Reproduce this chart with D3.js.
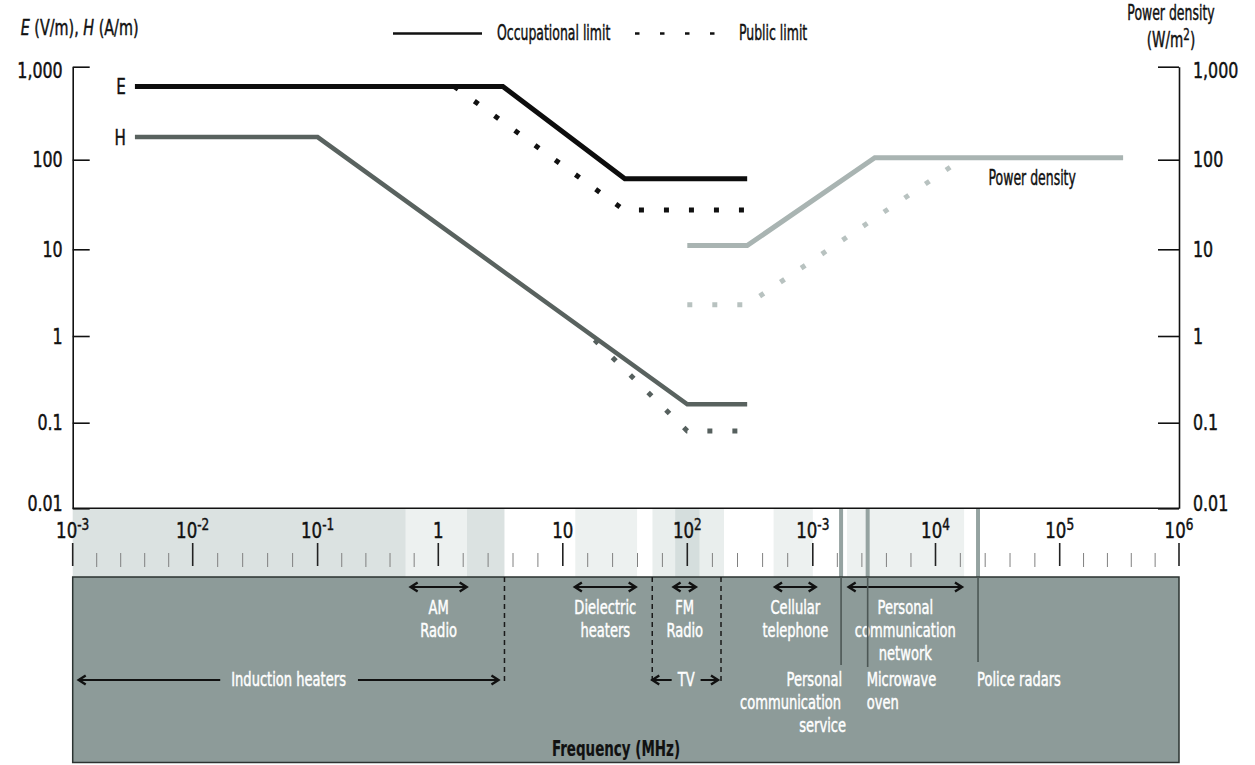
<!DOCTYPE html>
<html><head><meta charset="utf-8">
<script src="https://cdn.jsdelivr.net/npm/d3@7"></script>
<style>
html,body{margin:0;padding:0;background:#fff;}
svg{display:block;}
text{font-family:"Liberation Sans Narrow","DejaVu Sans Condensed","DejaVu Sans",sans-serif;}
</style></head><body>
<svg id="chart" width="1255" height="765"></svg>
<script>
// ---------------- data ----------------
const yTickValues = [0.01, 0.1, 1, 10, 100, 1000];
const yTickLabels = ["0.01", "0.1", "1", "10", "100", "1,000"];
const xDecades = [1e-3, 1e-2, 1e-1, 1, 10, 100, 1e3, 1e4, 1e5, 1e6];
const xTickBase = ["10", "10", "10", "1", "10", "10", "10", "10", "10", "10"];
const xTickExp = ["-3", "-2", "-1", "", "", "2", "-3", "4", "5", "6"];

// limits: [frequency MHz, value]
const eOccupational = [[0.0033, 614], [3.3, 614], [31.5, 61.4], [300, 61.4]];
const ePublic = [[1.34, 614], [31, 27.5], [300, 27.5]];
const hOccupational = [[0.0033, 175], [0.1, 175], [100, 0.163], [300, 0.163]];
const hPublic = [[18, 0.9], [100, 0.08], [300, 0.08]];
const pdOccupational = [[100, 11], [300, 11], [3200, 105], [340000, 105]];
const pdPublic = [[100, 2.3], [300, 2.3], [17000, 105]];

// frequency bands (MHz)
const bandNames = ["Induction heaters", "AM Radio", "Dielectric heaters", "TV", "FM Radio", "Cellular telephone", "Personal communication network"];
const bandFrom = [0.001, 0.535, 12.6, 52.5, 80, 487, 1900];
const bandTo = [3.4, 1.7, 39.5, 196, 125, 1000, 17000];

// double arrows with labels below them
const arrowLabels = [["AM", "Radio"], ["Dielectric", "heaters"], ["FM", "Radio"], ["Cellular", "telephone"], ["Personal", "communication", "network"]];
const arrowFrom = [0.59, 12.5, 77.6, 500, 1960];
const arrowTo = [1.69, 38.5, 117, 1055, 16340];

const inductionRange = [0.001, 3.4];
const tvRange = [52.3, 185.6];

const markerNames = ["Personal communication service", "Microwave oven", "Police radars"];
const markerFreq = [1700, 2800, 22000];

// ---------------- layout ----------------
const svg = d3.select("#chart");
const SX_WORD = 0.66, SX_NUM = 0.84;
const xScale = d3.scaleLog().domain(xDecades)
  .range([72.7, 192.7, 317.6, 438.3, 562.8, 687.3, 812.8, 935.5, 1059.7, 1179]);
const yScale = d3.scaleLog().domain(yTickValues)
  .range([508.3, 422.7, 336, 249.3, 159.7, 66.7]);
const x0 = xScale(1e-3), x1 = xScale(1e6);
const yBottom = yScale(0.01);
const bandTop = yBottom, bandBottom = 577;
const panelTop = 577, panelBottom = 762.5;

function addText(g, x, y, str, o = {}) {
  const col = o.color || "#111";
  const t = g.append("text")
    .attr("transform", `translate(${x},${y}) scale(${o.sx ?? SX_WORD},1)`)
    .attr("text-anchor", o.anchor || "middle")
    .attr("dominant-baseline", "central")
    .attr("font-size", o.size || 21)
    .attr("fill", col)
    .attr("stroke", col).attr("stroke-width", o.weight === "bold" ? 0.2 : 0.45)
    .attr("font-weight", o.weight || "normal");
  if (str !== null) t.text(str);
  return t;
}

// ---------- band shading ----------
const bandColor = {
  "Induction heaters": "#dbe2e1", "AM Radio": "#edf1f0", "Dielectric heaters": "#edf1f0",
  "TV": "#e9eeed", "FM Radio": "#d5dedd", "Cellular telephone": "#edf1f0",
  "Personal communication network": "#edf1f0"
};
const gBand = svg.append("g");
bandNames.forEach((n, i) => {
  gBand.append("rect")
    .attr("x", xScale(bandFrom[i])).attr("y", bandTop)
    .attr("width", xScale(bandTo[i]) - xScale(bandFrom[i]))
    .attr("height", bandBottom - bandTop)
    .attr("fill", bandColor[n]);
});

const minor = [];
for (let k = -3; k < 6; k++) for (let j = 1; j < 5; j++) minor.push(Math.pow(10, k + 0.2 * j));
gBand.selectAll("line.minor").data(minor).join("line")
  .attr("x1", d => xScale(d)).attr("x2", d => xScale(d))
  .attr("y1", 553).attr("y2", 567).attr("stroke", "#808080").attr("stroke-width", 1);
gBand.selectAll("line.major").data(xDecades).join("line")
  .attr("x1", d => xScale(d)).attr("x2", d => xScale(d))
  .attr("y1", 543).attr("y2", 566).attr("stroke", "#222").attr("stroke-width", 1.6);
xDecades.forEach((d, i) => {
  const t = addText(gBand, xScale(d), 530, null, { sx: SX_NUM, size: 22 });
  t.append("tspan").text(xTickBase[i]);
  if (xTickExp[i]) t.append("tspan").attr("font-size", 16).attr("dy", -7).text(xTickExp[i]);
});

markerFreq.forEach(f => {
  gBand.append("line").attr("x1", xScale(f)).attr("x2", xScale(f))
    .attr("y1", bandTop).attr("y2", bandBottom)
    .attr("stroke", "#95a3a1").attr("stroke-width", 4);
});

// ---------- axes ----------
const gAxes = svg.append("g");
const axL = d3.axisLeft(yScale).tickValues(yTickValues).tickFormat((d, i) => yTickLabels[i])
  .tickSizeInner(-17).tickSizeOuter(0).tickPadding(10);
const axR = d3.axisRight(yScale).tickValues(yTickValues).tickFormat((d, i) => yTickLabels[i])
  .tickSizeInner(-21).tickSizeOuter(0).tickPadding(14);
function styleAxis(g) {
  g.select(".domain").attr("stroke", "#111").attr("stroke-width", 1.6);
  g.selectAll(".tick line").attr("stroke", "#111").attr("stroke-width", 1.6);
  g.selectAll(".tick text").each(function (d) {
    const s = d3.select(this);
    const xx = +s.attr("x");
    const adj = d === 1000 ? 4 : (d === 0.01 ? -5 : 0);
    s.attr("x", null).attr("dy", null)
      .attr("dominant-baseline", "central")
      .attr("transform", `translate(${xx},${adj}) scale(${SX_NUM},1)`)
      .attr("font-size", 21).attr("fill", "#111")
      .attr("stroke", "#111").attr("stroke-width", 0.45);
  });
  g.attr("font-family", null).attr("font-size", null);
}
gAxes.append("g").attr("transform", `translate(${x0},0)`).call(axL).call(styleAxis);
gAxes.append("g").attr("transform", `translate(${x1},0)`).call(axR).call(styleAxis);
gAxes.append("line").attr("x1", x0).attr("x2", x1).attr("y1", yBottom).attr("y2", yBottom)
  .attr("stroke", "#111").attr("stroke-width", 1.6);

// axis titles
const tTitle = addText(svg, 20.7, 27, null, { anchor: "start", sx: 0.76 });
tTitle.append("tspan").attr("font-style", "italic").text("E");
tTitle.append("tspan").text(" (V/m), ");
tTitle.append("tspan").attr("font-style", "italic").text("H");
tTitle.append("tspan").text(" (A/m)");
addText(svg, 1171, 12.5, "Power density");
const tUnit = addText(svg, 1171, 39, null, { sx: 0.72 });
tUnit.append("tspan").text("(W/m");
tUnit.append("tspan").attr("font-size", 16).attr("dy", -5).text("2");
tUnit.append("tspan").attr("dy", 5).text(")");

// legend
svg.append("line").attr("x1", 393).attr("x2", 482).attr("y1", 33.5).attr("y2", 33.5)
  .attr("stroke", "#111").attr("stroke-width", 2.7);
addText(svg, 497, 32, "Occupational limit", { anchor: "start" });
svg.append("line").attr("x1", 635).attr("x2", 717).attr("y1", 33.5).attr("y2", 33.5)
  .attr("stroke", "#111").attr("stroke-width", 2.5).attr("stroke-dasharray", "4.5 20.5");
addText(svg, 739, 32, "Public limit", { anchor: "start" });

// ---------- limit lines ----------
const line = d3.line().x(d => xScale(d[0])).y(d => yScale(d[1]));
const gLines = svg.append("g").attr("fill", "none").attr("stroke-linejoin", "miter");
function draw(data, color, width, dotted) {
  const p = gLines.append("path").attr("d", line(data))
    .attr("stroke", color).attr("stroke-width", width);
  if (dotted) p.attr("stroke-dasharray", "5 20");
}
draw(pdPublic, "#b8c2c0", 5, true);
draw(hPublic, "#56605e", 5, true);
draw(ePublic, "#111", 5, true);
draw(pdOccupational, "#a9b4b2", 5, false);
draw(hOccupational, "#59625f", 4.5, false);
draw(eOccupational, "#0d0d0d", 5, false);

addText(svg, xScale(eOccupational[0][0]) - 9, yScale(eOccupational[0][1]), "E", { anchor: "end", sx: 0.8 });
addText(svg, xScale(hOccupational[0][0]) - 9, yScale(hOccupational[0][1]), "H", { anchor: "end", sx: 0.8 });
addText(svg, 988.6, 177, "Power density", { anchor: "start" });

// ---------- lower panel ----------
const gP = svg.append("g");
gP.append("rect").attr("x", x0).attr("y", panelTop).attr("width", x1 - x0)
  .attr("height", panelBottom - panelTop).attr("fill", "#8d9b99")
  .attr("stroke", "#2b3331").attr("stroke-width", 1.5);

function arrow(xa, xb, y, heads) {
  gP.append("line").attr("x1", xa).attr("x2", xb).attr("y1", y).attr("y2", y)
    .attr("stroke", "#111").attr("stroke-width", 2);
  const h = (xt, dir) => gP.append("path")
    .attr("d", `M${xt - dir * 7},${y - 4.5}L${xt},${y}L${xt - dir * 7},${y + 4.5}`)
    .attr("fill", "none").attr("stroke", "#111").attr("stroke-width", 2.4);
  if (heads === "both" || heads === "left") h(Math.min(xa, xb), -1);
  if (heads === "both" || heads === "right") h(Math.max(xa, xb), 1);
}
const rowArrow = 587, rows = [607, 630, 653];
const lowArrow = 680, lowRows = [679, 702.5, 725.5];
const white = "#ffffff";
const PS = 19.5, PSX = 0.745;

arrowLabels.forEach((lab, i) => {
  const xa = xScale(arrowFrom[i]), xb = xScale(arrowTo[i]);
  arrow(xa, xb, rowArrow, "both");
  lab.forEach((s, j) => addText(gP, (xa + xb) / 2, rows[j], s, { color: white, size: PS, sx: PSX }));
});

function dashed(xv, ya, yb) {
  gP.append("line").attr("x1", xv).attr("x2", xv).attr("y1", ya).attr("y2", yb)
    .attr("stroke", "#1a1a1a").attr("stroke-width", 1.5).attr("stroke-dasharray", "5 4");
}
dashed(xScale(inductionRange[1]), panelTop, 682);
dashed(xScale(tvRange[0]), panelTop, 682);
dashed(xScale(tvRange[1]), panelTop, 682);

{
  const xa = xScale(inductionRange[0]) + 6, xb = xScale(inductionRange[1]) - 6;
  const cx = (xa + xb) / 2;
  const t = addText(gP, cx, lowRows[0], "Induction heaters", { color: white, size: PS, sx: PSX });
  const w = t.node().getComputedTextLength() * PSX;
  arrow(xa, cx - w / 2 - 11, lowArrow, "left");
  arrow(cx + w / 2 + 12, xb, lowArrow, "right");
}
{
  const xa = xScale(tvRange[0]), xb = xScale(tvRange[1]) - 3;
  const cx = (xa + xb) / 2 + 1;
  const t = addText(gP, cx, lowRows[0], "TV", { color: white, size: PS, sx: PSX });
  const w = t.node().getComputedTextLength() * PSX;
  arrow(xa, cx - w / 2 - 6, lowArrow, "left");
  arrow(cx + w / 2 + 6, xb, lowArrow, "right");
}
const markerBottom = [665, 667, 662];
markerFreq.forEach((f, i) => {
  gP.append("line").attr("x1", xScale(f)).attr("x2", xScale(f))
    .attr("y1", panelTop).attr("y2", markerBottom[i])
    .attr("stroke", "#4c5755").attr("stroke-width", 1.6);
});
{
  const o = { color: white, size: PS, sx: PSX };
  const mx = xScale(markerFreq[0]);
  addText(gP, mx + 1, lowRows[0], "Personal", { ...o, anchor: "end" });
  addText(gP, mx, lowRows[1], "communication", { ...o, anchor: "end" });
  addText(gP, mx + 5, lowRows[2], "service", { ...o, anchor: "end" });
  const m2 = xScale(markerFreq[1]);
  addText(gP, m2 - 1, lowRows[0], "Microwave", { ...o, anchor: "start" });
  addText(gP, m2 - 1, lowRows[1], "oven", { ...o, anchor: "start" });
  const m3 = xScale(markerFreq[2]);
  addText(gP, m3 - 1, lowRows[0], "Police radars", { ...o, anchor: "start" });
}
addText(gP, 616, 748, "Frequency (MHz)", { weight: "bold", sx: 0.68, size: 22 });
</script>
</body></html>
